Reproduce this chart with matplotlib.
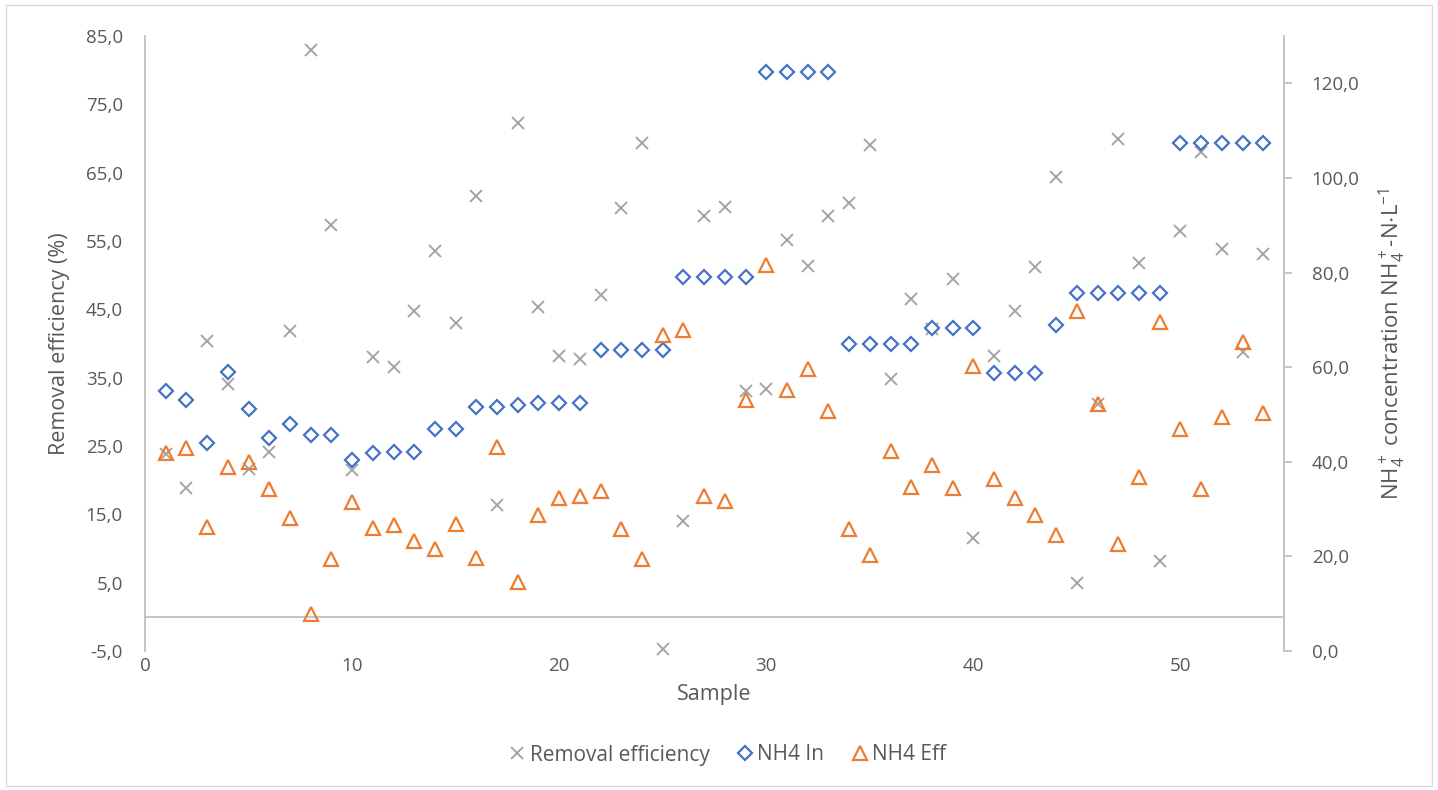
import numpy as np
import matplotlib
matplotlib.use('Agg')
import matplotlib.pyplot as plt
from matplotlib.ticker import FuncFormatter, MultipleLocator
from matplotlib.patches import Rectangle

# Sample numbers 1..54
samples = list(range(1, 55))

# Removal efficiency (%), left axis
removal = [23.8, 18.9, 40.3, 34.0, 21.6, 24.1, 41.8, 83.0, 57.4, 21.5,
           38.0, 36.6, 44.8, 53.6, 43.0, 61.6, 16.3, 72.2, 45.4, 38.2,
           37.8, 47.1, 59.8, 69.4, -4.7, 14.0, 58.7, 60.0, 33.0, 33.4,
           55.1, 51.3, 58.6, 60.6, 69.0, 34.8, 46.5, 42.1, 49.4, 11.6,
           38.1, 44.7, 51.2, 64.3, 4.9, 31.1, 69.9, 51.8, 8.2, 56.4,
           68.0, 53.9, 38.8, 53.1]

# NH4 influent, right axis
nh4_in = [55.0, 53.0, 44.0, 59.0, 51.1, 45.0, 48.0, 45.7, 45.7, 40.3,
          41.8, 42.0, 42.0, 47.0, 47.0, 51.5, 51.5, 52.1, 52.5, 52.5,
          52.5, 63.6, 63.6, 63.6, 63.6, 79.0, 79.0, 79.0, 79.0, 122.4,
          122.4, 122.4, 122.4, 64.9, 64.9, 64.9, 64.9, 68.2, 68.2, 68.2,
          58.7, 58.7, 58.7, 68.9, 75.6, 75.6, 75.6, 75.6, 75.6, 107.4,
          107.4, 107.4, 107.4, 107.4]

# NH4 effluent, right axis
nh4_eff = [41.8, 42.9, 26.3, 39.0, 39.9, 34.3, 28.1, 7.8, 19.5, 31.5,
           25.9, 26.6, 23.2, 21.6, 26.8, 19.7, 43.1, 14.6, 28.7, 32.3,
           32.7, 33.8, 25.8, 19.5, 66.7, 67.9, 32.8, 31.8, 53.0, 81.6,
           55.2, 59.6, 50.8, 25.8, 20.2, 42.2, 34.7, 39.4, 34.5, 60.3,
           36.4, 32.4, 28.7, 24.6, 71.9, 52.3, 22.7, 36.7, 69.5, 47.0,
           34.3, 49.5, 65.4, 50.4]

txt = '#595959'
axis_col = '#BFBFBF'
plt.rcParams['font.family'] = ['Open Sans', 'DejaVu Sans']
plt.rcParams['mathtext.default'] = 'regular'

fig = plt.figure(figsize=(14.38, 7.9), dpi=100)
ax = fig.add_axes([145/1438, 1 - 651/790, (1284-145)/1438, (651-36)/790])
ax2 = ax.twinx()

comma = FuncFormatter(lambda v, p: f'{v:.1f}'.replace('.', ','))

# primary axis
ax.set_xlim(0, 55)
ax.set_ylim(-5, 85)
ax.set_yticks(np.arange(-5, 86, 10))
ax.yaxis.set_major_formatter(comma)
ax.xaxis.set_major_locator(MultipleLocator(10))
ax.tick_params(axis='y', length=0, pad=16, labelsize=13.5, labelcolor=txt)
ax.tick_params(axis='x', length=0, pad=4, labelsize=13.5, labelcolor=txt)
for s in ['top', 'right', 'bottom']:
    ax.spines[s].set_visible(False)
ax.spines['left'].set_color(axis_col)
ax.spines['left'].set_linewidth(1.3)
ax.axhline(0, color=axis_col, lw=1.3, zorder=1)

ax.plot(samples, removal, linestyle='none', marker='x', ms=9, mew=1.4,
        color='#A5A5A5', label='Removal efficiency', clip_on=False)

# secondary axis
ax2.set_ylim(0, 130)
ax2.set_yticks(np.arange(0, 121, 20))
ax2.yaxis.set_major_formatter(comma)
ax2.tick_params(axis='y', length=6, width=1.3, color=axis_col, pad=14,
                labelsize=13.5, labelcolor=txt)
for s in ['top', 'left', 'bottom']:
    ax2.spines[s].set_visible(False)
ax2.spines['right'].set_color(axis_col)
ax2.spines['right'].set_linewidth(1.3)

ax2.plot(samples, nh4_in, linestyle='none', marker='D', ms=7.5, mew=1.6,
         color='#4472C4', mfc='white', label='NH4 In', clip_on=False)
ax2.plot(samples, nh4_eff, linestyle='none', marker='^', ms=10, mew=1.6,
         color='#ED7D31', mfc='none', label='NH4 Eff', clip_on=False)

ax.set_ylabel('Removal efficiency (%)', fontsize=15.5, color=txt, labelpad=11)
ax2.set_ylabel(r'NH$_4^+$ concentration NH$_4^+$-N$\cdot$L$^{-1}$',
               fontsize=16, color=txt, labelpad=12)
ax.set_xlabel('Sample', fontsize=15.5, color=txt, labelpad=7)

h1, l1 = ax.get_legend_handles_labels()
h2, l2 = ax2.get_legend_handles_labels()
fig.legend(h1 + h2, l1 + l2, loc='center', ncol=3, frameon=False,
           bbox_to_anchor=(728/1438, 1 - 755/790), fontsize=15,
           labelcolor=txt, handlelength=0.7, handletextpad=0.25,
           columnspacing=1.35)

fig.patches.append(Rectangle((6/1438, 4/790), 1426/1438, 781/790,
                             transform=fig.transFigure, fill=False,
                             edgecolor='#D9D9D9', lw=1))

fig.savefig('out.png', dpi=100)
